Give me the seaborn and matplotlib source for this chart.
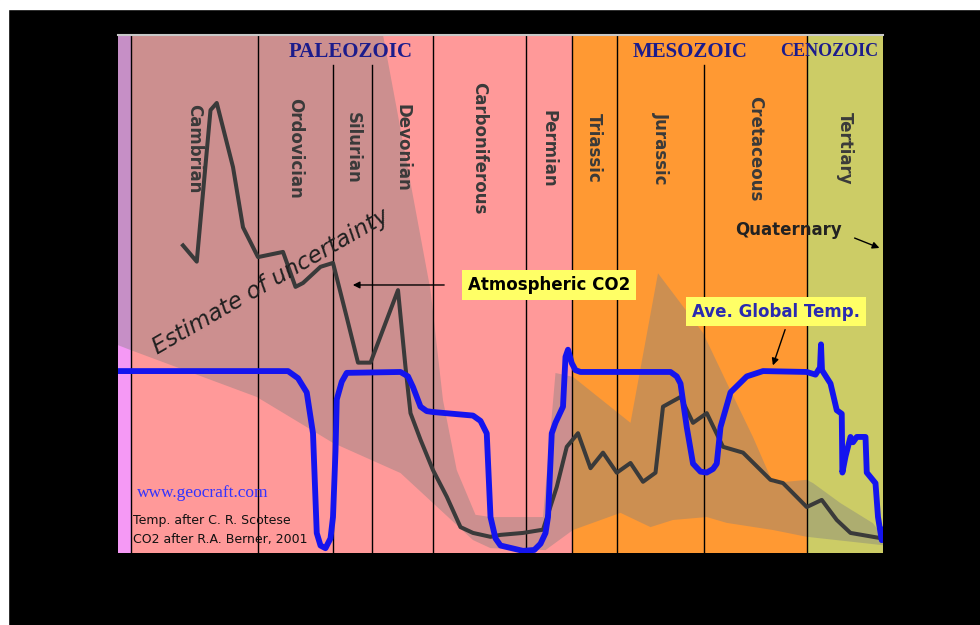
"""
CO2 and global temperature through the Phanerozoic (after Scotese / Berner).
"""

import numpy as np
import pandas as pd
import matplotlib
matplotlib.use("Agg")
import matplotlib.pyplot as plt
import seaborn as sns
from matplotlib.patches import Rectangle

# geologic periods (millions of years ago)
periods = ["Cambrian", "Ordovician", "Silurian", "Devonian", "Carboniferous",
           "Permian", "Triassic", "Jurassic", "Cretaceous", "Tertiary"]
period_start = [602, 500, 440, 409, 360, 286, 249, 213, 143, 61]
period_end = [500, 440, 409, 360, 286, 249, 213, 143, 61, 0]

eras = ["PRECAMBRIAN", "PALEOZOIC", "MESOZOIC", "CENOZOIC"]
era_start = [612, 602, 249, 61]
era_end = [602, 249, 61, 0]
era_label_age = [None, 426, 154, 43]

# atmospheric CO2 (ppm)
co2_age = [560, 549, 538, 533, 520, 512, 500, 480, 470, 464,
           450, 440, 429, 420, 410, 388, 382, 378, 370, 360,
           349, 338, 328, 314, 306, 288, 272, 261, 253, 244,
           234, 224, 213, 202, 192, 182, 176, 162, 152, 141,
           128, 112, 90, 80, 61, 49, 37, 26, 2, 0]
co2_ppm = [4750, 4500, 6840, 6950, 5960, 5030, 4570, 4650, 4110, 4170,
           4420, 4480, 3640, 2940, 2940, 4060, 2870, 2160, 1750, 1280,
           870, 400, 310, 250, 280, 310, 360, 1020, 1640, 1850,
           1310, 1550, 1240, 1390, 1100, 1240, 2260, 2410, 2010, 2160,
           1640, 1550, 1130, 1080, 710, 820, 510, 310, 230, 230]

# average global temperature (deg C)
temp_age = [612, 476, 468, 461, 456, 453, 450, 446, 442, 440,
            438, 437, 433, 429, 386, 380, 376, 370, 365, 360,
            328, 322, 317, 314, 310, 306, 288, 279, 274, 270,
            268, 265, 262, 256, 254, 252, 249, 246, 242, 170,
            165, 162, 157, 152, 146, 141, 136, 133, 130, 122,
            109, 96, 61, 54, 50.4, 49.6, 48.8, 42, 37, 33,
            32.5, 30, 26, 24, 21, 14, 13, 6, 4, 1, 0]
temp_c = [22.0, 22.0, 21.6, 20.8, 18.5, 12.9, 12.2, 12.05, 12.6, 13.8,
          17.5, 20.4, 21.4, 21.9, 21.95, 21.7, 21.1, 20.0, 19.75, 19.7,
          19.5, 19.2, 18.5, 13.8, 12.6, 12.2, 11.9, 11.95, 12.3, 12.9,
          13.8, 18.5, 19.1, 20.0, 22.8, 23.2, 22.45, 22.05, 21.95, 21.95,
          21.7, 21.3, 18.85, 16.8, 16.35, 16.3, 16.5, 16.8, 18.85, 20.8,
          21.7, 22.0, 21.95, 21.8, 22.2, 23.5, 22.05, 21.3, 19.8, 19.6,
          16.3, 17.2, 18.3, 18.0, 18.3, 18.3, 16.3, 15.7, 13.8, 12.5, 13.1]

# CO2 uncertainty envelope
band_age_upper = [612, 400, 362, 352, 341, 326, 314, 272, 262, 248,
                  202, 180, 144, 125, 104, 88, 61, 56, 34, 8, 0]
band_ppm_upper = [8000, 8000, 4060, 2360, 1280, 590, 555, 555, 2780, 2720,
                  2010, 4320, 3400, 2630, 1790, 1080, 1130, 1080, 770, 460, 250]
band_age_lower = [0, 61, 88, 125, 141, 168, 186, 210, 248, 270,
                  314, 328, 386, 440, 501, 602, 612]
band_ppm_lower = [120, 250, 355, 465, 555, 510, 400, 620, 355, 45,
                  75, 200, 1235, 1700, 2410, 3135, 3210]

era_colors = ["#f599f5", "#ff9999", "#ff9933", "#cccc66"]
short_lines = [440, 409, 143]

co2_df = pd.DataFrame({"age": co2_age, "co2": co2_ppm})
temp_df = pd.DataFrame({"age": temp_age, "temp": temp_c})

# figure: black card with thin white margin top/left
fig = plt.figure(figsize=(9.8, 6.25), dpi=100, facecolor="black")
fig.add_artist(Rectangle((0, 1 - 9 / 625), 1, 9 / 625, transform=fig.transFigure,
                         color="white", zorder=-5))
fig.add_artist(Rectangle((0, 0), 8 / 980, 1, transform=fig.transFigure,
                         color="white", zorder=-5))

ax = fig.add_axes([118 / 980, 72 / 625, 765 / 980, 518 / 625])
ax.set_xlim(612, 0)
ax.set_ylim(0, 8000)

for s, e, c in zip(era_start, era_end, era_colors):
    ax.axvspan(s, e, color=c, lw=0, zorder=0)

ax.fill(band_age_upper + band_age_lower, band_ppm_upper + band_ppm_lower,
        color="#808080", alpha=0.4, lw=0, zorder=1)

for b in period_start:
    top = 0.942 if b in short_lines else 1.0
    ax.axvline(b, ymin=0, ymax=top, color="black", lw=1, zorder=2)

sns.lineplot(data=co2_df, x="age", y="co2", ax=ax, color="#3a3a3a", lw=2.9,
             estimator=None, sort=False, zorder=3)

for name, s, e in zip(periods, period_start, period_end):
    ax.text((s + e) / 2, 6250, name, rotation=270, ha="center", va="center",
            fontsize=12, fontweight="bold", color="#3a3a3a", zorder=4)

for name, a in zip(eras, era_label_age):
    if a is None:
        continue
    ax.text(a, 7740, name, ha="center", va="center", family="Liberation Serif",
            fontsize=15 if name != "CENOZOIC" else 13, fontweight="bold",
            color="#1c1c8c", zorder=4)

ax.text(0.2000, 0.524, "Estimate of uncertainty", transform=ax.transAxes,
        rotation=30, ha="center", va="center", fontsize=16.5, style="italic",
        color="#202020", zorder=4)

ax.text(0.0248, 0.1158, "www.geocraft.com", transform=ax.transAxes,
        ha="left", va="center", family="Liberation Serif", fontsize=12.5,
        color="#3333ff", zorder=4)
ax.text(0.0196, 0.0637, "Temp. after C. R. Scotese", transform=ax.transAxes,
        ha="left", va="center", fontsize=9, color="#111111", zorder=4)
ax.text(0.0196, 0.0251, "CO2 after R.A. Berner, 2001", transform=ax.transAxes,
        ha="left", va="center", fontsize=9, color="#111111", zorder=4)

ax.text(0.5634, 0.5174, "Atmospheric CO2", transform=ax.transAxes,
        ha="center", va="center", fontsize=12, fontweight="bold", color="black",
        bbox=dict(boxstyle="square,pad=0.35", fc="#ffff66", ec="none"), zorder=6)
ax.annotate("", xy=(0.3033, 0.5174), xytext=(0.430, 0.5174), xycoords="axes fraction",
            arrowprops=dict(arrowstyle="-|>", color="black", lw=1, mutation_scale=10),
            zorder=6)

ax.text(0.877, 0.6236, "Quaternary", transform=ax.transAxes,
        ha="center", va="center", fontsize=12, fontweight="bold", color="#222222",
        zorder=6)
ax.annotate("", xy=(0.9987, 0.5869), xytext=(0.9595, 0.6100), xycoords="axes fraction",
            arrowprops=dict(arrowstyle="-|>", color="black", lw=1, mutation_scale=10),
            zorder=6)

ax.set_xticks([])
ax.set_yticks([])
ax.set_xlabel("")
ax.set_ylabel("")
for side in ["left", "right", "bottom"]:
    ax.spines[side].set_visible(False)
ax.spines["top"].set_color("#c8c8c8")
ax.spines["top"].set_linewidth(1.5)

# temperature on its own (hidden) scale
ax2 = ax.twinx()
ax2.set_ylim(11.78, 40.88)
sns.lineplot(data=temp_df, x="age", y="temp", ax=ax2, color="#1414ee", lw=4.2,
             estimator=None, sort=False, solid_joinstyle="round", solid_capstyle="round")
ax2.set_xlim(612, 0)
ax2.set_yticks([])
ax2.set_ylabel("")
for side in ax2.spines:
    ax2.spines[side].set_visible(False)

ax2.text(0.860, 0.4662, "Ave. Global Temp.", transform=ax2.transAxes,
         ha="center", va="center", fontsize=12, fontweight="bold", color="#2a2ab0",
         bbox=dict(boxstyle="square,pad=0.35", fc="#ffff66", ec="none"), zorder=6)
ax2.annotate("", xy=(0.8549, 0.3571), xytext=(0.8732, 0.4363), xycoords="axes fraction",
             arrowprops=dict(arrowstyle="-|>", color="black", lw=1, mutation_scale=10))

fig.savefig("out.png", dpi=100, facecolor=fig.get_facecolor())
plt.close(fig)
